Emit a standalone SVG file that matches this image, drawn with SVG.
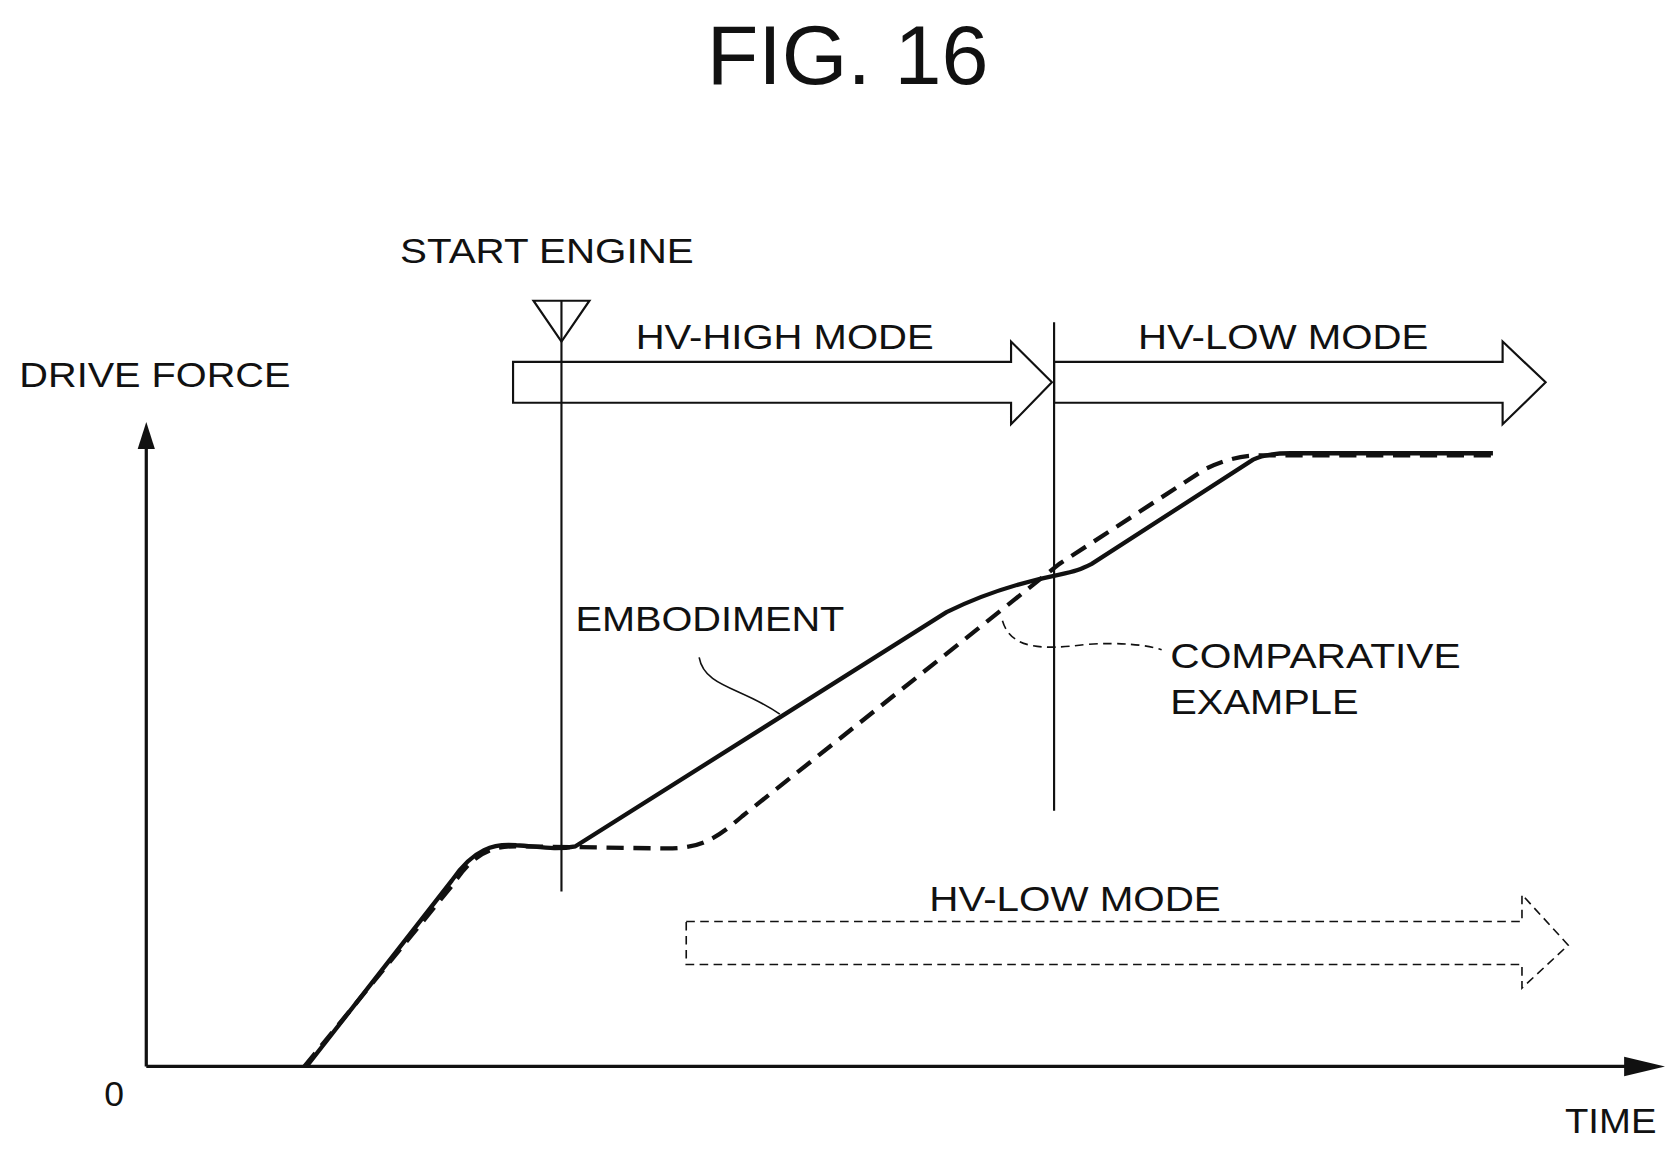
<svg xmlns="http://www.w3.org/2000/svg" width="1679" height="1149" viewBox="0 0 1679 1149">
<style>
text{font-family:"Liberation Sans",Arial,sans-serif;fill:#111}
.t{font-size:33px}
.ln{fill:none;stroke:#111;stroke-width:2}
.thick{stroke-width:4}
.thin{stroke-width:1.5}
</style>
<rect width="1679" height="1149" fill="#fff"/>
<g transform="scale(1.0756,1.074)">
<text x="788" y="78" font-size="78" text-anchor="middle" textLength="262" lengthAdjust="spacingAndGlyphs">FIG. 16</text>
<g id="axes">
<line class="ln" style="stroke-width:3" x1="136" y1="993" x2="136" y2="410"/>
<polygon points="128,418 136,393 144,418" fill="#111"/>
<line class="ln" style="stroke-width:3" x1="136" y1="993" x2="1520" y2="993"/>
<polygon points="1510,984 1548,993 1510,1002" fill="#111"/>
<text class="t" x="18" y="360" textLength="252" lengthAdjust="spacingAndGlyphs">DRIVE FORCE</text>
<text class="t" x="97" y="1030">0</text>
<text class="t" x="1455" y="1055" textLength="85" lengthAdjust="spacingAndGlyphs">TIME</text>
</g>
<g id="start-engine">
<text class="t" x="372" y="245" textLength="273" lengthAdjust="spacingAndGlyphs">START ENGINE</text>
<polygon class="ln" points="496,280 548,280 522,318"/>
<line class="ln" x1="522" y1="280" x2="522" y2="830"/>
</g>
<g id="hv-high">
<polygon class="ln" points="477,337 940,337 940,318 978,356 940,395 940,375 477,375"/>
<text class="t" x="591" y="325" textLength="277" lengthAdjust="spacingAndGlyphs">HV-HIGH MODE</text>
</g>
<line class="ln" x1="980" y1="300" x2="980" y2="755"/>
<g id="hv-low">
<polygon class="ln" points="980,337 1397,337 1397,318 1437,356 1397,395 1397,375 980,375"/>
<text class="t" x="1058" y="325" textLength="270" lengthAdjust="spacingAndGlyphs">HV-LOW MODE</text>
</g>
<g id="hv-low-comp">
<polygon class="ln thin" stroke-dasharray="8,5" points="638,858 1415,858 1415,833 1458,880 1415,920 1415,898 638,898"/>
<text class="t" x="864" y="848" textLength="271" lengthAdjust="spacingAndGlyphs">HV-LOW MODE</text>
</g>
<g id="curves">
<path class="ln thick" d="M285,993 L420,820 C440,790 460,785 480,787 C500,788 515,792 535,788 L880,570 C920,550 960,540 985,535 C1000,532 1005,530 1015,525 L1165,428 C1175,423 1190,422 1200,422 L1388,422"/>
<path class="ln thick" stroke-dasharray="16,9" d="M283,993 L420,825 C440,795 455,788 480,788 L620,790 C650,790 665,782 690,760 L985,525 L1120,437 C1145,425 1160,424 1175,424 L1388,424"/>
</g>
<g id="labels">
<text class="t" x="535" y="588" textLength="250" lengthAdjust="spacingAndGlyphs">EMBODIMENT</text>
<path class="ln thin" d="M650,612 C655,640 690,640 725,665"/>
<text class="t" x="1088" y="622" textLength="270" lengthAdjust="spacingAndGlyphs">COMPARATIVE</text>
<text class="t" x="1088" y="665" textLength="175" lengthAdjust="spacingAndGlyphs">EXAMPLE</text>
<path class="ln thin" stroke-dasharray="8,5" d="M932,578 C940,605 970,605 1010,600 C1040,598 1065,600 1080,605"/>
</g>
</g>
</svg>
